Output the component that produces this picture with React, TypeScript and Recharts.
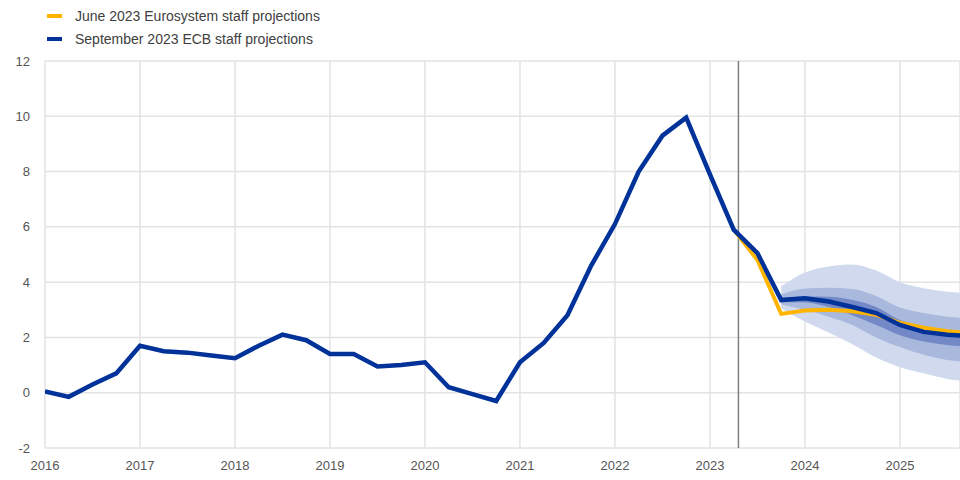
import React from 'react';
import {
  Area,
  CartesianGrid,
  ComposedChart,
  Line,
  ReferenceLine,
  XAxis,
  YAxis,
} from 'recharts';

// quarter index 0 = 2016 Q1
const quarters = Array.from({ length: 40 }, (_, i) => i);

const september: (number | null)[] = [
  0.05, -0.15, 0.3, 0.7, 1.7, 1.5, 1.45, 1.35, 1.25, 1.7, 2.1, 1.9, 1.4, 1.4, 0.95, 1.0,
  1.1, 0.2, -0.05, -0.3, 1.1, 1.8, 2.8, 4.6, 6.1, 8.0, 9.3, 9.95, 7.9, 5.9, 5.05, 3.35,
  3.42, 3.3, 3.1, 2.88, 2.45, 2.2, 2.1, 2.05,
];

const june: (number | null)[] = [
  null, null, null, null, null, null, null, null, null, null, null, null, null, null, null, null,
  null, null, null, null, null, null, null, null, null, null, null, null, null, 5.9, 4.8, 2.85,
  2.97, 3.0, 2.95, 2.82, 2.53, 2.35, 2.22, 2.15,
];

// uncertainty bands from 2023 Q4 (index 31) onwards: [low, high]
const outerBand: [number, number][] = [
  [3.05, 3.85], [2.58, 4.35], [2.18, 4.57], [1.75, 4.64], [1.27, 4.42], [0.92, 4.0], [0.7, 3.78], [0.5, 3.65], [0.4, 3.6],
];
const middleBand: [number, number][] = [
  [3.2, 3.55], [3.0, 3.77], [2.75, 3.8], [2.45, 3.75], [2.0, 3.5], [1.65, 3.08], [1.37, 2.88], [1.18, 2.75], [1.1, 2.7],
];
const innerBand: [number, number][] = [
  [3.28, 3.42], [3.26, 3.48], [3.1, 3.47], [2.8, 3.35], [2.45, 3.1], [2.08, 2.63], [1.85, 2.4], [1.73, 2.27], [1.66, 2.2],
];
const bandStart = 31;

const yearTicks = [0, 4, 8, 12, 16, 20, 24, 28, 32, 36];
const yTicks = [-2, 0, 2, 4, 6, 8, 10, 12];
const lastObservation = 29.2;

const BLUE = '#003299';
const YELLOW = '#ffb400';

const rows = quarters.map((t) => {
  const b = t - bandStart;
  return {
    t,
    september: september[t],
    june: june[t],
    outer: b >= 0 ? outerBand[b] : null,
    middle: b >= 0 ? middleBand[b] : null,
    inner: b >= 0 ? innerBand[b] : null,
  };
});

const legendItems = [
  { label: 'June 2023 Eurosystem staff projections', color: YELLOW },
  { label: 'September 2023 ECB staff projections', color: BLUE },
];

const font = '"Liberation Sans", Arial, sans-serif';

export default function App() {
  return (
    <div style={{ position: 'absolute', left: 0, top: 0, width: 960, height: 480, background: '#fff', fontFamily: font, overflow: 'hidden' }}>
      <div style={{ position: 'absolute', left: 47, top: 4 }}>
        {legendItems.map((it) => (
          <div key={it.label} style={{ display: 'flex', alignItems: 'center', height: 23, fontSize: 14, color: '#404040' }}>
            <span style={{ display: 'inline-block', width: 15, height: 4, background: it.color, marginRight: 13 }} />
            {it.label}
          </div>
        ))}
      </div>
      <ComposedChart width={960} height={480} data={rows} margin={{ top: 61, right: 0, bottom: 0, left: 0 }}>
        <CartesianGrid stroke="#e3e3e3" strokeWidth={1.5} />
        <XAxis
          type="number"
          dataKey="t"
          domain={[0, 38.53]}
          allowDataOverflow
          ticks={yearTicks}
          tickFormatter={(v: number) => String(2016 + v / 4)}
          height={32}
          tickSize={0}
          tickMargin={13}
          axisLine={false}
          tickLine={false}
          tick={{ fill: '#555', fontSize: 13, fontFamily: font }}
        />
        <YAxis
          type="number"
          domain={[-2, 12]}
          ticks={yTicks}
          width={45}
          tickSize={0}
          tickMargin={15}
          axisLine={false}
          tickLine={false}
          tick={{ fill: '#555', fontSize: 13, fontFamily: font }}
        />
        <Area type="monotone" dataKey="outer" stroke="none" fill="#d0d9ee" fillOpacity={1} isAnimationActive={false} />
        <Area type="monotone" dataKey="middle" stroke="none" fill="#a9b8dd" fillOpacity={1} isAnimationActive={false} />
        <Area type="monotone" dataKey="inner" stroke="none" fill="#7388c6" fillOpacity={1} isAnimationActive={false} />
        <ReferenceLine x={lastObservation} stroke="#7f7f7f" strokeWidth={1.5} />
        <Line type="linear" dataKey="june" stroke={YELLOW} strokeWidth={4} dot={false} isAnimationActive={false} />
        <Line type="linear" dataKey="september" stroke={BLUE} strokeWidth={4.5} dot={false} isAnimationActive={false} />
      </ComposedChart>
    </div>
  );
}
